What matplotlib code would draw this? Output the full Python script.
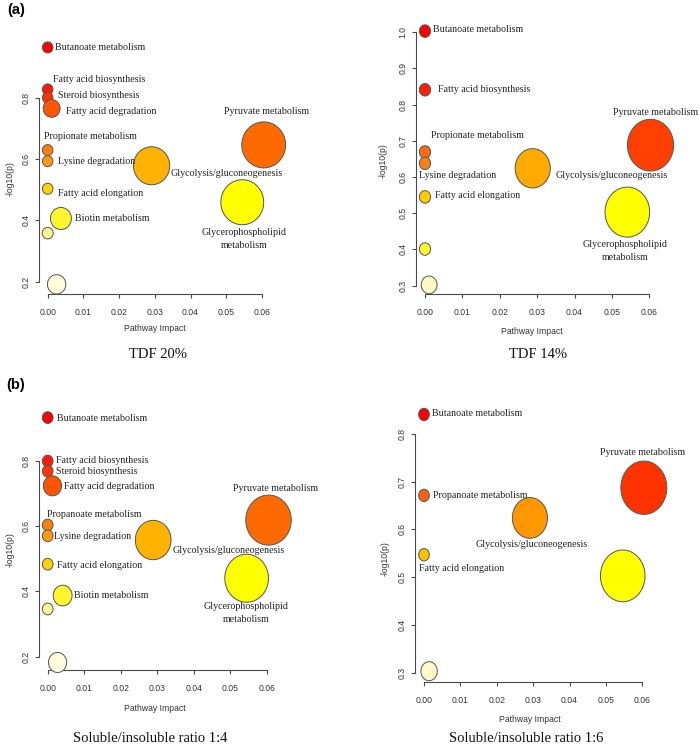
import numpy as np
import matplotlib
matplotlib.use('Agg')
import matplotlib.pyplot as plt
from matplotlib.path import Path

###############################################################################
# Data (pathway impact vs -log10(p))
###############################################################################
# (a) TDF 20%
p1_names = ['Butanoate metabolism', 'Fatty acid biosynthesis',
            'Steroid biosynthesis', 'Fatty acid degradation',
            'Propionate metabolism', 'Lysine degradation',
            'Fatty acid elongation', 'Biotin metabolism', '', '',
            'Glycolysis/gluconeogenesis', 'Pyruvate metabolism',
            'Glycerophospholipid\nmetabolism']
p1_impact = [0.0, 0.0, 0.0, 0.0011, 0.0, 0.0, 0.0, 0.0037, 0.0, 0.0025,
             0.0291, 0.0605, 0.0545]
p1_logp = [0.964, 0.827, 0.800, 0.765, 0.629, 0.593, 0.503, 0.406, 0.358,
           0.191, 0.578, 0.646, 0.459]

# TDF 14%
p2_names = ['Butanoate metabolism', 'Fatty acid biosynthesis',
            'Propionate metabolism', 'Lysine degradation',
            'Fatty acid elongation', '', '', 'Glycolysis/gluconeogenesis',
            'Pyruvate metabolism', 'Glycerophospholipid\nmetabolism']
p2_impact = [0.0, 0.0, 0.0, 0.0, 0.0, 0.0, 0.0011, 0.0288, 0.0603, 0.0541]
p2_logp = [1.003, 0.841, 0.669, 0.638, 0.545, 0.401, 0.302, 0.624, 0.688,
           0.503]

# (b) Soluble/insoluble ratio 1:4
p3_names = ['Butanoate metabolism', 'Fatty acid biosynthesis',
            'Steroid biosynthesis', 'Fatty acid degradation',
            'Propanoate metabolism', 'Lysine degradation',
            'Fatty acid elongation', 'Biotin metabolism', '', '',
            'Glycolysis/gluconeogenesis', 'Pyruvate metabolism',
            'Glycerophospholipid\nmetabolism']
p3_impact = [0.0, 0.0, 0.0, 0.0013, 0.0, 0.0, 0.0, 0.0041, 0.0, 0.0027,
             0.0289, 0.0605, 0.0545]
p3_logp = [0.932, 0.799, 0.768, 0.723, 0.603, 0.570, 0.483, 0.387, 0.346,
           0.182, 0.557, 0.618, 0.440]

# Soluble/insoluble ratio 1:6
p4_names = ['Butanoate metabolism', 'Propanoate metabolism',
            'Fatty acid elongation', '', 'Glycolysis/gluconeogenesis',
            'Pyruvate metabolism', '']
p4_impact = [0.0, 0.0, 0.0, 0.0014, 0.0291, 0.0604, 0.0546]
p4_logp = [0.840, 0.671, 0.547, 0.304, 0.624, 0.687, 0.503]

###############################################################################
# Styles
###############################################################################
p1_col = ['#FF0000', '#FF1A00', '#FF3300', '#FF5500', '#FF8000', '#FF9A10',
          '#FFD200', '#FFF530', '#FFF690', '#FFFCDA', '#FFB300', '#FF6A00',
          '#FFFF00']
p2_col = ['#FF0000', '#FF2000', '#FF6A10', '#FF8012', '#FFCC00', '#FFF530',
          '#FFFAC8', '#FFAA00', '#FF4000', '#FFFF00']
p3_col = p1_col
p4_col = ['#FF0000', '#FF6010', '#FFC000', '#FFFAC8', '#FF9800', '#FF3300',
          '#FFFF00']

# bubble heights in pixels
p1_h = [11, 11, 11, 17.7, 11, 11, 11, 22, 11.5, 19.3, 38, 46, 45]
p2_h = [12.5, 12.5, 12.5, 12.5, 12.5, 12.5, 17.7, 39.3, 51.7, 50]
p3_h = [11.7, 11.7, 11.7, 20, 11.7, 11.7, 11.7, 20.7, 11.7, 20, 39.3, 50, 48]
p4_h = [12.3, 12.3, 12.3, 19, 40.7, 53.3, 51.7]

# label offsets (pixels, right / up) and alignment
p1_off = [(7.3, 0, 'left'), (5, 10, 'left'), (10, 1.7, 'left'),
          (14, -2.7, 'left'), (-3.4, 13.3, 'left'), (10.6, -0.7, 'left'),
          (10.6, -4.6, 'left'), (14, 0, 'left'), None, None,
          (19.3, -7.6, 'left'), (3, 33.3, 'center'),
          (1.7, -36.7, 'center')]
p2_off = [(7.7, 1.4, 'left'), (13.3, 0, 'left'), (6.3, 16.3, 'left'),
          (-6, -12.4, 'left'), (10, 1, 'left'), None, None,
          (23.3, -7.4, 'left'), (5.3, 33, 'center'), (-2.3, -38.7, 'center')]
p3_off = [(9, -1.3, 'left'), (8, 0.7, 'left'), (8, 0, 'left'),
          (12, -0.6, 'left'), (-1, 11, 'left'), (6.6, -0.6, 'left'),
          (9, -1, 'left'), (11.6, 0, 'left'), None, None,
          (19, -10, 'left'), (7, 31.7, 'center'), (0, -35, 'center')]
p4_off = [(7.7, 0.7, 'left'), (9.3, 0, 'left'), (-5, -13.7, 'left'), None,
          (1.7, -26.3, 'center'), (-0.8, 35.6, 'center'), None]

W, H = 700, 747
PT = 72.0 / 100
SERIF = 'Liberation Serif'
SANS = 'Liberation Sans'
AX_COL = '#4a4a4a'


def ellipse(aspect):
    t = np.linspace(0, 2 * np.pi, 120)
    return Path(np.column_stack([np.cos(t) / aspect, np.sin(t)]))


def panel(fig, geo, xlim, ylim, yticks, impact, logp, names, cols, hts,
          offs, aspect, xlab, ylab, cap):
    (x0px, xs, yref, ypx, ys) = geo
    l = x0px + xlim[0] * xs
    r = x0px + xlim[1] * xs
    t = ypx - (ylim[1] - yref) * ys
    b = ypx - (ylim[0] - yref) * ys
    ax = fig.add_axes([l / W, 1 - b / H, (r - l) / W, (b - t) / H])
    ax.set_xlim(*xlim)
    ax.set_ylim(*ylim)
    ax.patch.set_alpha(0)
    for s in ['top', 'right']:
        ax.spines[s].set_visible(False)
    for s in ['left', 'bottom']:
        ax.spines[s].set_color(AX_COL)
        ax.spines[s].set_linewidth(0.8)
    xt = np.arange(0, 0.061, 0.01)
    ax.set_xticks(xt)
    ax.set_xticklabels(['{:.2f}'.format(v) for v in xt])
    ax.set_yticks(yticks)
    ax.set_yticklabels(['{:.1f}'.format(v) for v in yticks], rotation=90,
                       va='center')
    ax.spines['bottom'].set_bounds(0, 0.06)
    ax.spines['left'].set_bounds(yticks[0], yticks[-1])
    ax.tick_params(length=3, width=0.8, color=AX_COL, labelsize=6.2,
                   labelcolor='#333333')
    ax.tick_params(axis='x', pad=7)
    ax.tick_params(axis='y', pad=3)
    for lab in ax.get_xticklabels() + ax.get_yticklabels():
        lab.set_fontfamily(SANS)

    ax.scatter(impact, logp, s=[(h * PT) ** 2 for h in hts], c=cols,
               marker=ellipse(aspect), edgecolors='#555555',
               linewidths=0.7, zorder=3, clip_on=False)
    for (x, y, n, o) in zip(impact, logp, names, offs):
        if o is None or not n:
            continue
        ax.annotate(n, (x, y), xytext=(o[0] * PT, o[1] * PT),
                    textcoords='offset points', ha=o[2], va='center',
                    fontsize=7.2, family=SERIF, color='#222222',
                    multialignment='center', linespacing=1.5, zorder=4)

    fig.text(xlab[0] / W, 1 - xlab[1] / H, 'Pathway Impact', ha='center',
             va='center', fontsize=6.2, family=SANS, color='#333333')
    fig.text(ylab[0] / W, 1 - ylab[1] / H, '-log10(p)', ha='center',
             va='center', rotation=90, fontsize=6.2, family=SANS,
             color='#333333')
    fig.text(cap[0] / W, 1 - cap[1] / H, cap[2], ha='center', va='center',
             fontsize=10.5, family=SERIF, color='#111111')
    return ax


fig = plt.figure(figsize=(W / 100, H / 100), dpi=100)
fig.patch.set_facecolor('white')

panel(fig, (47.7, 3570, 0.8, 97.7, 306.5), (-0.00235, 0.065), (0.1586, 1.0),
      [0.2, 0.4, 0.6, 0.8], p1_impact, p1_logp, p1_names, p1_col, p1_h,
      p1_off, 1.05, (155, 329), (10, 179), (157.7, 355, 'TDF 20%'))
panel(fig, (425, 3740, 0.6, 177, 362), (-0.0024, 0.065), (0.2768, 1.05),
      [0.3, 0.4, 0.5, 0.6, 0.7, 0.8, 0.9, 1.0], p2_impact, p2_logp, p2_names,
      p2_col, p2_h, p2_off, 1.12, (532.3, 331.7), (383, 160.7),
      (537.7, 355, 'TDF 14%'))
panel(fig, (47.7, 3650, 0.8, 460.7, 326.5), (-0.0024, 0.065), (0.159, 0.96),
      [0.2, 0.4, 0.6, 0.8], p3_impact, p3_logp, p3_names, p3_col, p3_h,
      p3_off, 1.1, (155, 708.3), (10, 550),
      (150, 738, 'Soluble/insoluble ratio 1:4'))
panel(fig, (424, 3640, 0.5, 577.3, 479), (-0.0025, 0.065), (0.282, 0.86),
      [0.3, 0.4, 0.5, 0.6, 0.7, 0.8], p4_impact, p4_logp, p4_names, p4_col,
      p4_h, p4_off, 1.16, (530, 719), (385, 558.3),
      (526, 738, 'Soluble/insoluble ratio 1:6'))

fig.text(16 / W, 1 - 10 / H, '(a)', ha='center', va='center', fontsize=10.5,
         fontweight='bold', family=SANS)
fig.text(16 / W, 1 - 385 / H, '(b)', ha='center', va='center', fontsize=10.5,
         fontweight='bold', family=SANS)

fig.savefig('out.png', dpi=100)
